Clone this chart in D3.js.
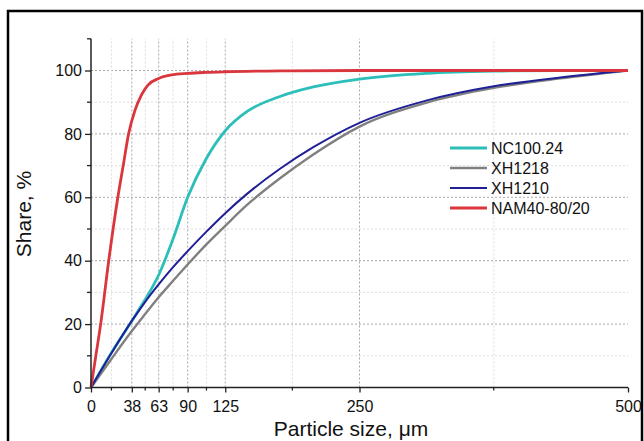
<!DOCTYPE html>
<html>
<head>
<meta charset="utf-8">
<script src="https://cdn.jsdelivr.net/npm/d3@7"></script>
<style>
  body { margin: 0; background: #fff; }
  svg text { font-family: "Liberation Sans", Arial, sans-serif; fill: #111; }
</style>
</head>
<body>
<div id="chart"></div>
<script>
// Particle size distribution (cumulative share)
const sizes = [0, 19, 38, 50, 63, 76, 90, 107, 125, 145, 176, 207, 250, 312, 375, 437, 500];
const nc100 = [0, 11, 21, 27.5, 35.5, 46.5, 60, 72, 81, 87, 91.8, 94.8, 97.3, 99.1, 99.8, 100, 100];
const xh1218 = [0, 9, 17.8, 23, 28.5, 33.5, 38.8, 45, 51, 57.5, 66, 73.5, 82.3, 89.8, 94.5, 97.5, 100];
const xh1210 = [0, 10.8, 21, 26.8, 32.5, 37.8, 43, 49, 55, 61, 69, 75.8, 83.5, 90.5, 95, 97.8, 100];

const namSizes = [0, 4.5, 9, 16.5, 25, 30, 35, 41, 47, 53, 63, 75, 90, 107, 125, 187, 250, 500];
const nam40 = [0, 10, 20, 40, 60, 70, 80, 87.5, 92.3, 95.4, 97.5, 98.6, 99.1, 99.4, 99.6, 99.9, 100, 100];

const xMajor = [0, 38, 63, 90, 125, 250, 500];
const yMajor = [0, 20, 40, 60, 80, 100];
const yMinor = [10, 30, 50, 70, 90, 110];

const seriesNames = ['NC100.24', 'XH1218', 'XH1210', 'NAM40-80/20'];
const seriesColors = ['#2cbfba', '#808080', '#1f1f96', '#d9363e'];
const seriesWidths = [2.8, 2.4, 2, 2.8];

const width = 644, height = 441;

const svg = d3.select('#chart').append('svg')
    .attr('width', width)
    .attr('height', height);

const x = d3.scaleLinear().domain([0, 500]).range([91, 628]);
const y = d3.scaleLinear().domain([0, 110]).range([387.5, 38.8]);

// minor x ticks sit halfway between the major ones
const xMinor = d3.pairs(xMajor).map(p => (p[0] + p[1]) / 2);

// grid
const grid = svg.append('g');
grid.selectAll('.hminor').data(yMinor.filter(d => d < 110))
    .enter().append('line')
    .attr('x1', x(0)).attr('x2', x(500))
    .attr('y1', d => y(d)).attr('y2', d => y(d))
    .attr('stroke', '#dcdcdc').attr('stroke-dasharray', '2,2');
grid.selectAll('.hmajor').data(yMajor.filter(d => d > 0))
    .enter().append('line')
    .attr('x1', x(0)).attr('x2', x(500))
    .attr('y1', d => y(d)).attr('y2', d => y(d))
    .attr('stroke', '#a8a8a8').attr('stroke-dasharray', '2,2');
grid.selectAll('.vminor').data(xMinor)
    .enter().append('line')
    .attr('x1', d => x(d)).attr('x2', d => x(d))
    .attr('y1', y(0)).attr('y2', y(110))
    .attr('stroke', '#dcdcdc').attr('stroke-dasharray', '2,2');
grid.selectAll('.vmajor').data(xMajor.filter(d => d > 0 && d < 500))
    .enter().append('line')
    .attr('x1', d => x(d)).attr('x2', d => x(d))
    .attr('y1', y(0)).attr('y2', y(110))
    .attr('stroke', '#a8a8a8').attr('stroke-dasharray', '2,2');

// curves
const line = d3.line()
    .x(d => x(d[0]))
    .y(d => y(d[1]))
    .curve(d3.curveMonotoneX);

const seriesData = [
    d3.zip(sizes, nc100),
    d3.zip(sizes, xh1218),
    d3.zip(sizes, xh1210),
    d3.zip(namSizes, nam40)
];

svg.selectAll('.curve')
    .data(seriesData)
    .enter().append('path')
    .attr('class', 'curve')
    .attr('d', line)
    .attr('fill', 'none')
    .attr('stroke', (d, i) => seriesColors[i])
    .attr('stroke-width', (d, i) => seriesWidths[i])
    .attr('stroke-linejoin', 'round');

// axes
const xAxis = svg.append('g')
    .attr('transform', `translate(0,${y(0)})`)
    .call(d3.axisBottom(x).tickValues(xMajor).tickSize(5).tickPadding(8).tickFormat(d3.format('d')));
xAxis.append('g').selectAll('line').data(xMinor)
    .enter().append('line')
    .attr('x1', d => x(d)).attr('x2', d => x(d))
    .attr('y1', 0).attr('y2', 3)
    .attr('stroke', '#222').attr('stroke-width', 1.3);

const yAxis = svg.append('g')
    .attr('transform', `translate(${x(0)},0)`)
    .call(d3.axisLeft(y).tickValues(yMajor).tickSize(6).tickPadding(3).tickFormat(d3.format('d')));
yAxis.append('g').selectAll('line').data(yMinor)
    .enter().append('line')
    .attr('x1', -4).attr('x2', 0)
    .attr('y1', d => y(d)).attr('y2', d => y(d))
    .attr('stroke', '#222').attr('stroke-width', 1.3);

[xAxis, yAxis].forEach(g => {
    g.select('.domain').attr('stroke', '#222').attr('stroke-width', 1.5);
    g.selectAll('.tick line').attr('stroke', '#222').attr('stroke-width', 1.3);
    g.selectAll('.tick text')
        .attr('font-size', 16)
        .attr('font-family', '"Liberation Sans", Arial, sans-serif')
        .attr('fill', '#111');
});
xAxis.select('.domain').attr('d', `M${x(0)},0H${x(500)}`);
yAxis.select('.domain').attr('d', `M0,${y(0)}V${y(110)}`);

// axis titles
svg.append('text')
    .attr('x', 351).attr('y', 436)
    .attr('text-anchor', 'middle')
    .attr('font-size', 21)
    .text('Particle size, μm');

svg.append('text')
    .attr('transform', 'translate(31,214) rotate(-90)')
    .attr('text-anchor', 'middle')
    .attr('font-size', 21)
    .text('Share, %');

// legend
const legend = svg.append('g');
seriesNames.forEach((name, i) => {
    const ly = 148 + i * 20;
    legend.append('line')
        .attr('x1', 450).attr('x2', 487)
        .attr('y1', ly).attr('y2', ly)
        .attr('stroke', seriesColors[i])
        .attr('stroke-width', seriesWidths[i]);
    legend.append('text')
        .attr('x', 491).attr('y', ly + 6)
        .attr('font-size', 16)
        .text(name);
});

// outer frame
svg.append('rect')
    .attr('x', 8).attr('y', 11)
    .attr('width', 634).attr('height', 450)
    .attr('fill', 'none')
    .attr('stroke', '#000')
    .attr('stroke-width', 2.5);
</script>
</body>
</html>
